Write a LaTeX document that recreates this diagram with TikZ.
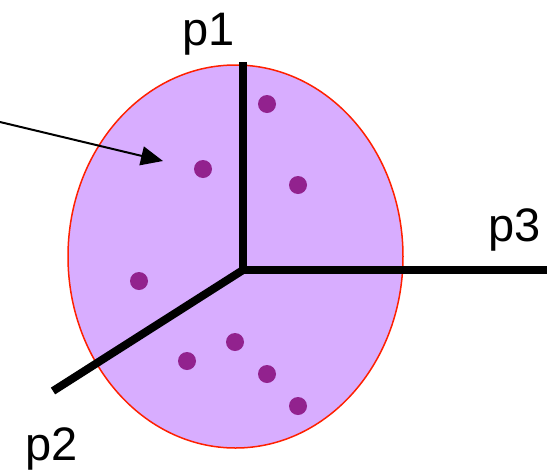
\documentclass[tikz,border=0pt]{standalone}
\usepackage{fontspec}
\setmainfont{Liberation Sans}
\definecolor{setlilac}{RGB}{216,173,255}
\definecolor{setred}{RGB}{255,32,0}
\definecolor{dotpurple}{RGB}{146,34,142}
\usetikzlibrary{arrows.meta,positioning}

\begin{document}
\begin{tikzpicture}[x=1pt,y=-1pt,
  axisline/.style={line width=8pt,line cap=butt},
  sample/.style={circle,fill=dotpurple,inner sep=0pt,minimum size=18pt},
  axislabel/.style={font=\fontsize{47}{47}\selectfont,anchor=base,inner sep=0pt}]
\useasboundingbox (0,0) rectangle (557,472);
\draw[setred,line width=1.5pt,fill=setlilac] (235.5,256.5) ellipse (167.5 and 191.5);
% samples
\foreach \x/\y [count=\i] in {267/104,203/169,298/185,139/281,235/342,187/361,267/374,298/406}
  \node[sample] (s\i) at (\x,\y) {};
% axes
\coordinate (o) at (243,270);
\coordinate (e1) at (243,62);
\coordinate (e2) at (53,391);
\coordinate (e3) at (547,270);
\draw[axisline] (e1) -- (o) -- (e3);
\draw[axisline] (o) -- (e2);
\node[axislabel] (p1) at (209,45) {p1};
\node[axislabel] (p2) at (52,460) {p2};
\node[axislabel] (p3) at (515,241) {p3};
% pointer
\coordinate (tail) at (0,122);
\coordinate (tip) at (163,161);
\draw[line width=2pt,-{Triangle[length=22pt,width=19pt]}] (tail) -- (tip);
\end{tikzpicture}
\end{document}
